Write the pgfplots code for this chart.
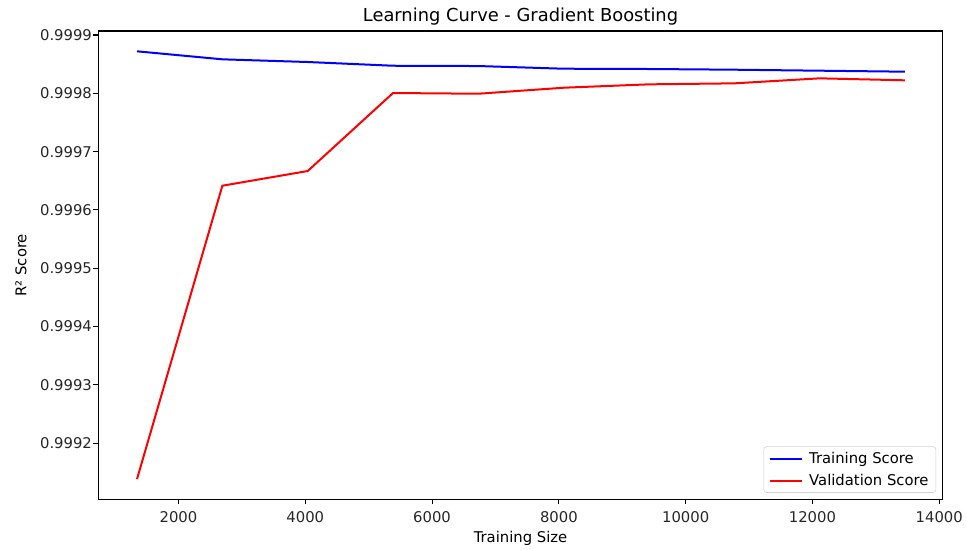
\documentclass[border=0pt]{standalone}
\usepackage{pgfplots}
\pgfplotsset{compat=1.18}
\usepackage{fontspec}
\setmainfont{DejaVu Sans}
\newcommand\fs{\fontsize{11.1pt}{13.3pt}\selectfont}
% R^2 values lie very close to 1. To keep pgf's limited-precision arithmetic
% exact, y is stored as (R^2 - 0.999) x 10^4, e.g. 8.7204 means 0.99987204.
\begin{document}
\begin{tikzpicture}
\useasboundingbox (-73.725pt,-37.275pt) rectangle (650.775pt,374.475pt);
\begin{axis}[
  at={(0,0)}, anchor=south west,
  scale only axis, width=633.3pt, height=351.2pt,
  xmin=735, xmax=14055,
  ymin=1.0360, ymax=9.0686,
  ytick={2,3,4,5,6,7,8,9},
  yticklabels={0.9992,0.9993,0.9994,0.9995,0.9996,0.9997,0.9998,0.9999},
  xtick={2000,4000,6000,8000,10000,12000,14000},
  scaled x ticks=false,
  /pgf/number format/1000 sep={},
  /pgf/number format/assume math mode=true,
  tick align=outside, major tick length=3.6pt,
  xtick pos=bottom, ytick pos=left,
  axis line style={line width=0.83pt},
  tick style={line width=0.83pt, black},
  ticklabel style={font=\fs, inner sep=0pt, text=black!85},
  yticklabel style={anchor=east, xshift=-1pt},
  xticklabel style={anchor=north, yshift=-5.5pt},
  title={Learning Curve - Gradient Boosting},
  title style={font=\fontsize{13.4pt}{16pt}\selectfont, at={(axis description cs:0.5,1)}, anchor=center, yshift=4.9pt},
  xlabel={Training Size},
  xlabel style={font=\fs, at={(axis description cs:0.5,0)}, anchor=center, yshift=-29.5pt},
  ylabel={R² Score},
  ylabel style={font=\fs, at={(axis description cs:-0.0915,0.5)}, anchor=center},
  legend style={font=\fs, at={(1,0)}, anchor=south east, xshift=-5pt, yshift=4.9pt,
    draw=black!18, rounded corners=2pt, inner xsep=3.5pt, inner ysep=2pt,
    row sep=2.5pt},
  legend cell align=left,
  legend image code/.code={\draw[#1] (0pt,0pt) -- (24pt,0pt); \path (27pt,0pt);},
]
\addplot[blue, line width=1.5pt] coordinates {
 (1346,8.7204) (2692,8.5832) (4038,8.5370) (5384,8.4730)
 (6730,8.4680) (8076,8.4220) (9422,8.4170) (10768,8.4050)
 (12114,8.3880) (13460,8.3710)};
\addlegendentry{Training Score}
\addplot[red, line width=1.5pt] coordinates {
 (1346,1.3840) (2692,6.4150) (4038,6.6670) (5384,8.0050)
 (6730,7.9930) (8076,8.0960) (9422,8.1540) (10768,8.1710)
 (12114,8.2570) (13460,8.2230)};
\addlegendentry{Validation Score}
\end{axis}
\end{tikzpicture}
\end{document}
